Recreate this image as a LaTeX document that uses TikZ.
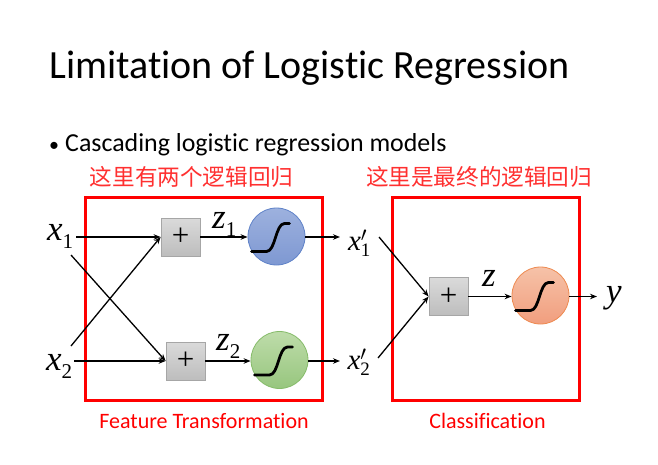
\documentclass[tikz,border=0pt]{standalone}
\usepackage{fontspec}
\setmainfont{Carlito}[Ligatures={NoCommon,NoContextual}]
\newfontfamily\cjk{Noto Sans CJK SC}
\newfontfamily\lserif{Liberation Serif}[ItalicFont={Liberation Serif Italic}]
\newcommand\lserifit{\lserif\itshape}
\usetikzlibrary{arrows.meta}
\definecolor{bluefillA}{HTML}{9DB1DE}
\definecolor{bluefillB}{HTML}{7E98D2}
\definecolor{blueline}{HTML}{5F82C8}
\definecolor{greenfillA}{HTML}{BEDCAA}
\definecolor{greenfillB}{HTML}{97C67E}
\definecolor{greenline}{HTML}{86BC6A}
\definecolor{orangefillA}{HTML}{F6C2A8}
\definecolor{orangefillB}{HTML}{F19E7E}
\definecolor{orangeline}{HTML}{EE8A50}
\definecolor{boxline}{HTML}{A6A6A6}
\definecolor{boxA}{HTML}{DADADA}
\definecolor{boxB}{HTML}{BDBDBD}
\definecolor{cnred}{HTML}{FF3030}
\newcommand\varlbl[2]{{\lserifit #1}\raisebox{-8pt}{\lserif\fontsize{21}{21}\selectfont #2}}
\newcommand\primelbl[1]{$\hbox{\lserifit x}'_{\hbox{\lserif\fontsize{19}{19}\selectfont #1}}$}
\begin{document}
\begin{tikzpicture}[x=1pt,y=-1pt,
  plusbox/.style={draw=boxline, top color=boxA, bottom color=boxB, minimum width=39pt, minimum height=38pt, inner sep=0pt, line width=0.8pt, font=\lserif\fontsize{31}{31}\selectfont},
  sigcircle/.style={circle, minimum size=57pt, inner sep=0pt, line width=0.8pt},
  sigcurve/.style={line width=2.8pt, line cap=round, line join=round},
  arr/.style={-{Stealth[length=7pt,width=5.5pt]}, line width=1.3pt},
  redbox/.style={draw=red, line width=3pt},
  mathlbl/.style={inner sep=0pt, anchor=base west, font=\fontsize{35}{35}\selectfont},
  mathlblp/.style={inner sep=0pt, font=\fontsize{29}{29}\selectfont},
  redlbl/.style={text=red, inner sep=0pt, font=\fontsize{22}{22}\selectfont},
  cjklbl/.style={text=cnred, inner sep=0pt, font=\cjk\fontsize{22.6}{22.6}\selectfont}
]
\useasboundingbox (0,0) rectangle (658,465);
\fill[white] (0,0) rectangle (658,465);

% title and bullet
\node[anchor=base west, inner sep=0pt, font=\fontsize{40}{40}\selectfont] (title) at (49,79) {Limitation of Logistic Regression};
\node[anchor=base west, inner sep=0pt, font=\fontsize{20}{20}\selectfont] (bullet) at (49,151.7) {•};
\node[anchor=base west, inner sep=0pt, font=\fontsize{25.9}{25.9}\selectfont] (btext) at (65,151.7) {Cascading logistic regression models};

% chinese notes
\node[cjklbl] (cn1) at (191.5,177) {这里有两个逻辑回归};
\node[cjklbl] (cn2) at (479,177) {这里是最终的逻辑回归};

% red boxes
\draw[redbox] (85,197) rectangle (322,400);
\draw[redbox] (392,197) rectangle (579,400);

% bottom labels
\node[redlbl] (ft) at (204,421) {Feature Transformation};
\node[redlbl] (cl) at (487.5,421) {Classification};

% inputs
\node[mathlbl] (x1) at (47,240) {\varlbl{x}{1}};
\node[mathlbl] (x2) at (46,370) {\varlbl{x}{2}};

% plus boxes
\node[plusbox] (p1) at (180.5,237) {+};
\node[plusbox] (p2) at (185.5,361) {+};
\node[plusbox] (p3) at (448.5,296.5) {+};

% sigmoid circles
\node[sigcircle, draw=blueline, top color=bluefillA, bottom color=bluefillB] (s1) at (276.5,236.5) {};
\node[sigcircle, draw=greenline, top color=greenfillA, bottom color=greenfillB] (s2) at (279.5,360) {};
\node[sigcircle, draw=orangeline, top color=orangefillA, bottom color=orangefillB] (s3) at (540.5,295.5) {};

\foreach \c in {s1,s2,s3}{
  \begin{scope}[shift={(\c.center)}]
    \draw[sigcurve] (-25,15) -- (-10,15) .. controls (-1,15) and (-1,-13) .. (8,-13) -- (13,-13);
  \end{scope}
}

% z labels
\node[mathlbl] (z1) at (212,228) {\varlbl{z}{1}};
\node[mathlbl] (z2) at (216,350) {\varlbl{z}{2}};
\node[mathlbl] (z) at (482,286.5) {{\lserifit z}};

% intermediate labels
\node[mathlblp] (x1p) at (359.5,243) {\primelbl{1}};
\node[mathlblp] (x2p) at (359,362) {\primelbl{2}};
\node[mathlbl] (y) at (606,302) {{\lserifit y}};

% coordinates for free ends
\coordinate (a1) at (76,237);
\coordinate (a2) at (74,361);
\coordinate (c1) at (71,255);
\coordinate (c2) at (71,346);
\coordinate (e1) at (340,237);
\coordinate (e2) at (340,361);
\coordinate (d1) at (379,237);
\coordinate (d2) at (378,358);
\coordinate (e3) at (597,296.5);

% connectors
\draw[arr] (a1) -- (p1.west);
\draw[arr] (a2) -- (p2.west);
\draw[arr] (c1) -- (p2.west);
\draw[arr] (c2) -- (p1.west);
\draw[arr] (p1.east) -- (s1.west |- p1.east);
\draw[arr] (p2.east) -- (s2.west |- p2.east);
\draw[arr] (s1.east |- e1) -- (e1);
\draw[arr] (s2.east |- e2) -- (e2);
\draw[arr] (d1) -- (p3.west);
\draw[arr] (d2) -- (p3.west);
\draw[arr] (p3.east) -- (s3.west |- p3.east);
\draw[arr] (s3.east |- e3) -- (e3);
\end{tikzpicture}
\end{document}
